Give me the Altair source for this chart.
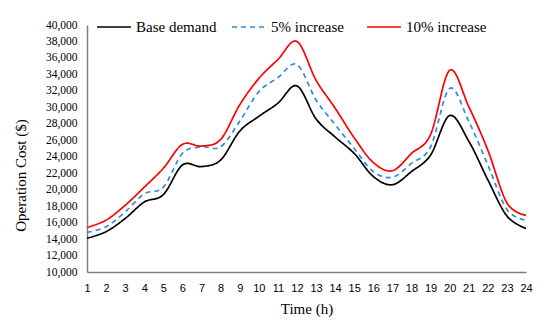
import altair as alt
import pandas as pd

hours = list(range(1, 25))
base = [14100, 14900, 16500, 18500, 19400, 23000, 22800, 23600, 27100, 28900, 30500, 32600,
        28600, 26400, 24400, 21600, 20600, 22200, 24200, 29000, 25900, 21200, 16800, 15300]
inc5 = [14800, 15500, 17300, 19500, 20300, 24400, 25200, 25200, 28300, 31900, 33600, 35200,
        30900, 27900, 25000, 22200, 21500, 23200, 25200, 32300, 28300, 23000, 17600, 16300]
inc10 = [15400, 16300, 18100, 20300, 22600, 25500, 25300, 26100, 30300, 33500, 35800, 38000,
         33300, 29900, 26300, 23300, 22300, 24400, 26700, 34500, 30100, 24800, 18400, 16900]
series_names = ["Base demand", "5% increase", "10% increase"]
colors = ["#000000", "#2E8BDA", "#FF0000"]
dashes = [[1, 0], [5, 4], [1, 0]]
y_ticks = list(range(10000, 40001, 2000))

rows = []
for name, vals in zip(series_names, [base, inc5, inc10]):
    for h, v in zip(hours, vals):
        rows.append({"hour": h, "cost": v, "series": name})
df = pd.DataFrame(rows)

legend_kw = dict(
    title=None, orient="none", legendX=9, legendY=-16, direction="horizontal",
    columns=3, gridAlign="all", columnPadding=11, symbolType="stroke",
    symbolSize=1150, symbolStrokeWidth=1.6, labelFont="Liberation Serif",
    labelFontSize=15, labelColor="#000000", labelOffset=4, labelLimit=0, padding=0,
)

chart = alt.Chart(df).mark_line(interpolate="cardinal", strokeWidth=1.7).encode(
    x=alt.X("hour:Q", scale=alt.Scale(domain=[1, 24], nice=False, zero=False),
            axis=alt.Axis(values=hours, title="Time (h)", grid=False, ticks=False,
                          labelFont="Liberation Sans", labelFontSize=11, labelColor="#000000",
                          labelPadding=10, labelFlush=False,
                          titleFont="Liberation Serif", titleFontSize=15, titleFontWeight="normal",
                          titleColor="#000000", titlePadding=8,
                          domainColor="#7f7f7f", domainWidth=1.5)),
    y=alt.Y("cost:Q", scale=alt.Scale(domain=[10000, 40000], nice=False, zero=False),
            axis=alt.Axis(values=y_ticks, format=",d", title="Operation Cost ($)", grid=False,
                          ticks=False, labelFont="Liberation Serif", labelFontSize=11.5,
                          labelColor="#000000", labelPadding=10,
                          titleFont="Liberation Serif", titleFontSize=15, titleFontWeight="normal",
                          titleColor="#000000", titleAngle=270, titleX=-67, titleY=150,
                          titleAlign="center", titleBaseline="middle",
                          domainColor="#7f7f7f", domainWidth=1.5)),
    color=alt.Color("series:N", scale=alt.Scale(domain=series_names, range=colors),
                    legend=alt.Legend(**legend_kw)),
    strokeDash=alt.StrokeDash("series:N", scale=alt.Scale(domain=series_names, range=dashes),
                              legend=alt.Legend(**legend_kw)),
).properties(
    width=439, height=247,
    autosize=alt.AutoSizeParams(type="none"),
    padding={"left": 79, "top": 17, "right": 16, "bottom": 50},
).configure_view(stroke=None)

chart.save("out.html", embed_options={"renderer": "svg", "actions": False})
